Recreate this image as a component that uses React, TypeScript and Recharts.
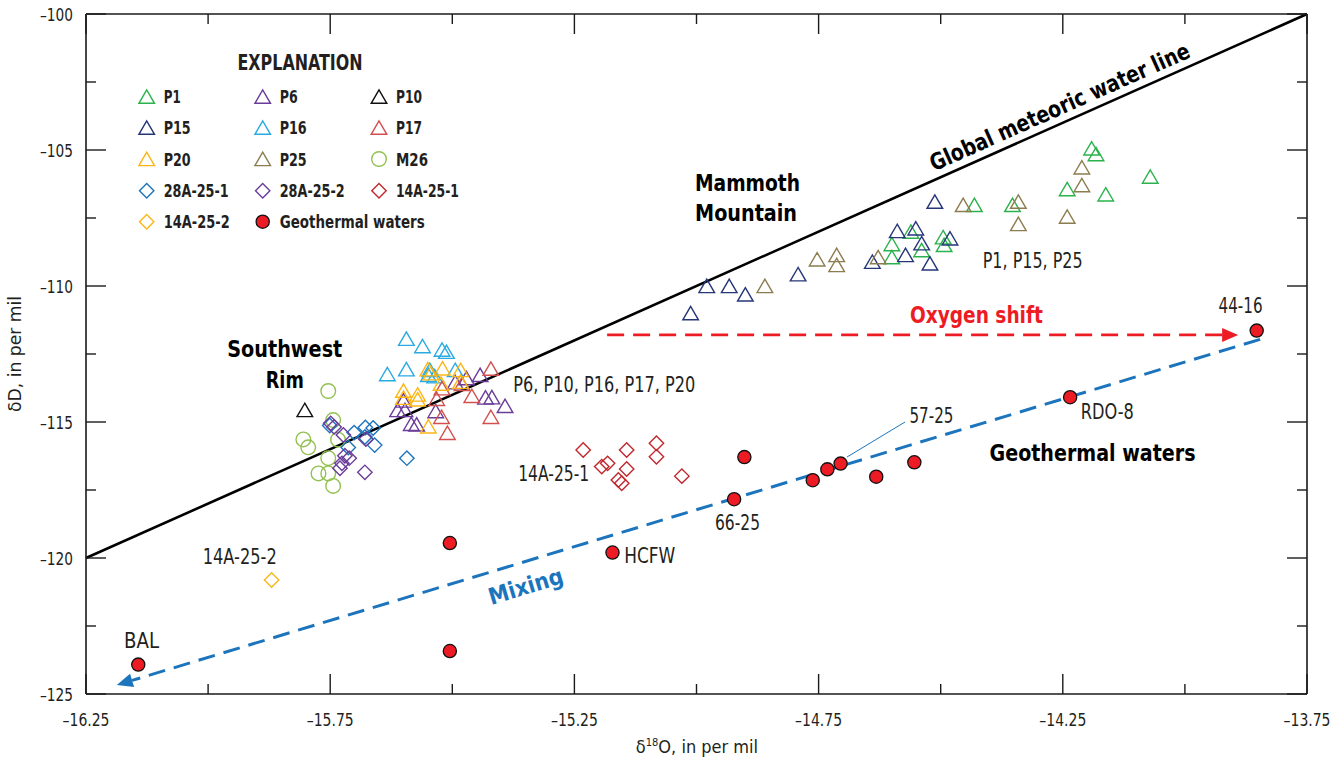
import React from 'react';
import { ScatterChart, Scatter, XAxis, YAxis, ReferenceLine } from 'recharts';

// ---------- data (δ18O, δD) ----------
const P1 = [[-14.600,-108.46],[-14.600,-108.94],[-14.561,-108.00],[-14.539,-108.68],[-14.495,-108.21],[-14.493,-108.49],[-14.431,-107.02],[-14.353,-107.02],[-14.241,-106.44],[-14.191,-104.94],[-14.182,-105.15],[-14.162,-106.63],[-14.071,-105.98]];
const P6 = [[-15.612,-114.56],[-15.597,-114.56],[-15.600,-114.21],[-15.584,-115.07],[-15.573,-115.09],[-15.534,-114.60],[-15.494,-113.54],[-15.471,-113.39],[-15.443,-113.27],[-15.432,-114.10],[-15.419,-114.09],[-15.392,-114.41]];
const P10 = [[-15.802,-114.56]];
const P15 = [[-15.012,-111.00],[-14.979,-110.00],[-14.933,-110.00],[-14.900,-110.31],[-14.792,-109.57],[-14.640,-109.11],[-14.589,-107.98],[-14.572,-108.86],[-14.551,-107.88],[-14.539,-108.43],[-14.522,-109.17],[-14.512,-106.90],[-14.481,-108.25]];
const P16 = [[-15.594,-111.94],[-15.561,-112.21],[-15.521,-112.34],[-15.512,-112.42],[-15.633,-113.24],[-15.594,-113.06],[-15.546,-113.09],[-15.549,-113.27],[-15.536,-113.32],[-15.494,-113.09]];
const P17 = [[-15.421,-113.04],[-15.521,-113.76],[-15.532,-114.15],[-15.460,-114.04],[-15.421,-114.81],[-15.522,-114.81],[-15.510,-115.40],[-15.480,-113.60]];
const P20 = [[-15.550,-113.06],[-15.544,-113.21],[-15.520,-113.03],[-15.483,-113.09],[-15.483,-113.52],[-15.523,-113.59],[-15.600,-113.85],[-15.600,-114.11],[-15.571,-113.99],[-15.571,-114.17],[-15.549,-115.16]];
const P25 = [[-14.860,-110.00],[-14.753,-109.02],[-14.713,-108.86],[-14.713,-109.23],[-14.628,-108.94],[-14.454,-107.02],[-14.341,-106.90],[-14.341,-107.72],[-14.241,-107.45],[-14.211,-105.64],[-14.211,-106.29]];
const M26 = [[-15.754,-113.86],[-15.744,-114.93],[-15.805,-115.64],[-15.795,-115.93],[-15.734,-115.65],[-15.754,-116.33],[-15.774,-116.89],[-15.754,-116.89],[-15.744,-117.35]];
const W28A_25_1 = [[-15.751,-115.13],[-15.701,-115.39],[-15.678,-115.20],[-15.662,-115.22],[-15.679,-115.55],[-15.713,-115.94],[-15.659,-115.85],[-15.593,-116.33]];
const W28A_25_2 = [[-15.749,-115.05],[-15.742,-115.18],[-15.723,-115.48],[-15.677,-115.63],[-15.720,-116.24],[-15.711,-116.33],[-15.726,-116.52],[-15.730,-116.70],[-15.679,-116.85]];
const W14A_25_1 = [[-15.232,-116.03],[-15.194,-116.64],[-15.182,-116.52],[-15.143,-116.03],[-15.143,-116.73],[-15.160,-117.13],[-15.153,-117.25],[-15.082,-115.78],[-15.082,-116.28],[-15.030,-116.99]];
const W14A_25_2 = [[-15.870,-120.81]];
const GEOTHERMAL = [[-16.143,-123.92],[-15.505,-119.45],[-15.505,-123.42],[-15.172,-119.80],[-14.923,-117.84],[-14.902,-116.29],[-14.762,-117.14],[-14.732,-116.74],[-14.705,-116.53],[-14.632,-117.01],[-14.554,-116.48],[-14.235,-114.09],[-13.853,-111.64]];

// lines (endpoints in data units)
const GMWL = [[-16.25,-120],[-13.75,-100]];
const MIXING = [[-13.846,-111.96],[-16.187,-124.67]];
const OXYGEN_SHIFT = [[-15.183,-111.80],[-13.891,-111.80]];
const LEADER_57_25 = [[-14.692,-116.29],[-14.573,-115.0]];

// axes
const X_DOMAIN = [-16.25, -13.75];
const Y_DOMAIN = [-125, -100];
const X_TICKS = [-16.25,-16,-15.75,-15.5,-15.25,-15,-14.75,-14.5,-14.25,-14,-13.75];
const Y_TICKS = [-125,-122.5,-120,-117.5,-115,-112.5,-110,-107.5,-105,-102.5,-100];

// annotations: [δ18O, δD, text, kind]
const ANNOTATIONS = [
  [-14.250,-103.68,'Global meteoric water line','gmwl'],
  [-15.003,-106.51,'Mammoth','bold'],
  [-15.003,-107.61,'Mountain','bold'],
  [-14.414,-109.35,'P1, P15, P25','reg'],
  [-14.563,-111.37,'Oxygen shift','red'],
  [-13.886,-111.00,'44-16','regc'],
  [-14.213,-114.90,'RDO-8','reg'],
  [-14.400,-116.42,'Geothermal waters','bold'],
  [-14.564,-115.03,'57-25','reg'],
  [-14.916,-118.97,'66-25','regc'],
  [-15.148,-120.19,'HCFW','reg'],
  [-15.365,-117.17,'14A-25-1','reg'],
  [-16.011,-120.23,'14A-25-2','reg'],
  [-16.172,-123.30,'BAL','reg'],
  [-15.843,-112.62,'Southwest','boldc'],
  [-15.843,-113.76,'Rim','boldc'],
  [-15.375,-113.89,'P6, P10, P16, P17, P20','reg'],
  [-15.345,-121.32,'Mixing','mix'],
];
const TEXT_WIDTHS: Record<string, number> = {
  'Global meteoric water line': 282, Mammoth: 105, Mountain: 102, 'Oxygen shift': 133,
  'Geothermal waters': 206, Southwest: 115, Rim: 38, Mixing: 77,
  'P1, P15, P25': 100, '44-16': 44, 'RDO-8': 53, '57-25': 44, '66-25': 45, HCFW: 51,
  '14A-25-1': 71, '14A-25-2': 74, BAL: 35, 'P6, P10, P16, P17, P20': 182,
};
const LEGEND_WIDTHS: Record<string, number> = {
  P1: 17, P6: 18, P10: 26, P15: 27, P16: 27, P17: 26, P20: 27, P25: 27, M26: 32,
  '28A-25-1': 65, '28A-25-2': 65, '14A-25-1': 63, '14A-25-2': 66, 'Geothermal waters': 145,
};

// ---------- styling ----------
const W = 1336, H = 761;
const MARGIN = { top: 13, right: 28, bottom: 37, left: 26 };
const FONT = "'DejaVu Sans Condensed', 'Liberation Sans Narrow', 'Arial Narrow', sans-serif";
const AX = '#1a1a1a';
const TXT = '#231f20';
const GEO_RED = '#ed1c24';
const MIX_BLUE = '#1c75bc';

const toPts = (a: number[][]) => a.map(([o, d]) => ({ o, d }));

const Tri = ({ cx, cy, c }: any) => (
  <polygon points={`${cx},${cy - 6.8} ${cx - 7.8},${cy + 6.6} ${cx + 7.8},${cy + 6.6}`} fill="none" stroke={c} strokeWidth={1.4} />
);
const Dia = ({ cx, cy, c }: any) => (
  <polygon points={`${cx},${cy - 7.2} ${cx + 7.2},${cy} ${cx},${cy + 7.2} ${cx - 7.2},${cy}`} fill="none" stroke={c} strokeWidth={1.4} />
);
const Circ = ({ cx, cy, c }: any) => <circle cx={cx} cy={cy} r={7.3} fill="none" stroke={c} strokeWidth={1.4} />;
const Geo = ({ cx, cy }: any) => <circle cx={cx} cy={cy} r={6.6} fill={GEO_RED} stroke="#111" strokeWidth={1.3} />;

const MARKERS: Record<string, any> = { tri: Tri, dia: Dia, circ: Circ, geo: Geo };

const SERIES = [
  { name: 'P1', data: P1, m: 'tri', c: '#2bb24c' },
  { name: 'P6', data: P6, m: 'tri', c: '#6a3d9a' },
  { name: 'P10', data: P10, m: 'tri', c: '#111111' },
  { name: 'P15', data: P15, m: 'tri', c: '#263679' },
  { name: 'P16', data: P16, m: 'tri', c: '#29abe2' },
  { name: 'P17', data: P17, m: 'tri', c: '#d2504f' },
  { name: 'P20', data: P20, m: 'tri', c: '#fbb616' },
  { name: 'P25', data: P25, m: 'tri', c: '#8c7d4f' },
  { name: 'M26', data: M26, m: 'circ', c: '#92c14f' },
  { name: '28A-25-1', data: W28A_25_1, m: 'dia', c: '#1c75bc' },
  { name: '28A-25-2', data: W28A_25_2, m: 'dia', c: '#6a3d9a' },
  { name: '14A-25-1', data: W14A_25_1, m: 'dia', c: '#c1272d' },
  { name: '14A-25-2', data: W14A_25_2, m: 'dia', c: '#fbb616' },
  { name: 'Geothermal waters', data: GEOTHERMAL, m: 'geo', c: GEO_RED },
];

const isMajorX = (v: number) => Math.abs(((v + 16.25) / 0.5) - Math.round((v + 16.25) / 0.5)) < 1e-6;
const isMajorY = (v: number) => Math.abs(v / 5 - Math.round(v / 5)) < 1e-6;
const dash = '\u2013';

const BottomTick = (p: any) => {
  const v = p.payload.value, major = isMajorX(v);
  return (
    <g>
      <line x1={p.x} x2={p.x} y1={p.y} y2={p.y - (major ? 20 : 10)} stroke={AX} strokeWidth={1.4} />
      {major && <text x={p.x} y={p.y + 32} textAnchor="middle" fontFamily={FONT} fontSize={17} fill={TXT} textLength={47} lengthAdjust="spacingAndGlyphs">{dash + Math.abs(v).toFixed(2)}</text>}
    </g>
  );
};
const TopTick = (p: any) => {
  const v = p.payload.value, major = isMajorX(v);
  return <line x1={p.x} x2={p.x} y1={p.y} y2={p.y + (major ? 20 : 10)} stroke={AX} strokeWidth={1.4} />;
};
const LeftTick = (p: any) => {
  const v = p.payload.value, major = isMajorY(v);
  return (
    <g>
      <line x1={p.x} x2={p.x + (major ? 20 : 10)} y1={p.y} y2={p.y} stroke={AX} strokeWidth={1.4} />
      {major && <text x={p.x - 13} y={p.y + 6.5} textAnchor="end" fontFamily={FONT} fontSize={17} fill={TXT} textLength={33} lengthAdjust="spacingAndGlyphs">{dash + Math.abs(v)}</text>}
    </g>
  );
};
const RightTick = (p: any) => {
  const v = p.payload.value, major = isMajorY(v);
  return <line x1={p.x} x2={p.x - (major ? 20 : 10)} y1={p.y} y2={p.y} stroke={AX} strokeWidth={1.4} />;
};

const arrowLine = (color: string, width: number, dashArr: string | undefined, arrow: boolean) => (p: any) => {
  const { x1, y1, x2, y2 } = p;
  if ([x1, y1, x2, y2].some((v) => typeof v !== 'number' || isNaN(v))) return <g />;
  const len = Math.hypot(x2 - x1, y2 - y1);
  const ux = (x2 - x1) / len, uy = (y2 - y1) / len;
  const aL = 16, aW = 7;
  const ex = arrow ? x2 - ux * aL : x2, ey = arrow ? y2 - uy * aL : y2;
  return (
    <g>
      <line x1={x1} y1={y1} x2={ex} y2={ey} stroke={color} strokeWidth={width} strokeDasharray={dashArr} />
      {arrow && (
        <polygon points={`${x2},${y2} ${ex - uy * aW},${ey + ux * aW} ${ex + uy * aW},${ey - ux * aW}`} fill={color} />
      )}
    </g>
  );
};

const seg = (a: number[][]) => [{ x: a[0][0], y: a[0][1] }, { x: a[1][0], y: a[1][1] }] as any;

const annStyle = (kind: string, text: string) => {
  const base: any = { fontFamily: FONT, fill: TXT, fontSize: 20.5, textAnchor: 'start', textLength: TEXT_WIDTHS[text], lengthAdjust: 'spacingAndGlyphs' };
  if (kind === 'regc') base.textAnchor = 'middle';
  if (kind === 'bold' || kind === 'boldc' || kind === 'red' || kind === 'gmwl' || kind === 'mix') {
    base.fontWeight = 'bold';
    base.fontSize = 23;
    base.fill = '#000';
  }
  if (kind === 'boldc' || kind === 'gmwl' || kind === 'mix') base.textAnchor = 'middle';
  if (kind === 'red') base.fill = GEO_RED;
  if (kind === 'mix') base.fill = MIX_BLUE;
  return base;
};

const AnnotationShape = (p: any) => {
  const { cx, cy, payload } = p;
  const { text, kind } = payload;
  const st = annStyle(kind, text);
  let transform: string | undefined;
  if (kind === 'gmwl') transform = `rotate(-24 ${cx} ${cy})`;
  if (kind === 'mix') transform = `rotate(-16.8 ${cx} ${cy})`;
  return (
    <text x={cx} y={cy} transform={transform} {...st}>
      {text}
    </text>
  );
};

const Legend = () => {
  const rows = [
    ['P1', 'P6', 'P10'],
    ['P15', 'P16', 'P17'],
    ['P20', 'P25', 'M26'],
    ['28A-25-1', '28A-25-2', '14A-25-1'],
    ['14A-25-2', 'Geothermal waters'],
  ];
  const rowY = [96.7, 127.7, 159, 190.7, 221.7];
  const colX = [146.7, 262.7, 379];
  const items: any[] = [];
  rows.forEach((r, i) =>
    r.forEach((name, j) => {
      const s = SERIES.find((q) => q.name === name)!;
      const Mk = MARKERS[s.m];
      items.push(
        <g key={name}>
          <Mk cx={colX[j]} cy={rowY[i]} c={s.c} />
          <text x={colX[j] + 17} y={rowY[i] + 6.6} fontFamily={FONT} fontWeight="bold" fontSize={18.5} fill={TXT}
            textLength={LEGEND_WIDTHS[name]} lengthAdjust="spacingAndGlyphs">
            {name}
          </text>
        </g>
      );
    })
  );
  return (
    <svg width={W} height={H} style={{ position: 'absolute', left: 0, top: 0, pointerEvents: 'none' }}>
      <text x={300} y={69.5} textAnchor="middle" fontFamily={FONT} fontWeight="bold" fontSize={21} fill={TXT} textLength={125} lengthAdjust="spacingAndGlyphs">
        EXPLANATION
      </text>
      {items}
      <text transform="translate(21 354) rotate(-90)" textAnchor="middle" fontFamily={FONT} fontSize={17} fill={TXT} textLength={116} lengthAdjust="spacingAndGlyphs">
        δD, in per mil
      </text>
      <text x={697} y={753} textAnchor="middle" fontFamily={FONT} fontSize={18} fill={TXT}>
        <tspan>δ</tspan>
        <tspan fontSize={11} dy={-7}>18</tspan>
        <tspan dy={7}>O, in per mil</tspan>
      </text>
    </svg>
  );
};

export default function App() {
  const annData = ANNOTATIONS.map(([o, d, text, kind]) => ({ o, d, text, kind }));
  return (
    <div style={{ position: 'absolute', left: 0, top: 0, width: W, height: H, background: '#fff' }}>
      <ScatterChart width={W} height={H} margin={MARGIN}>
        <XAxis xAxisId={0} type="number" dataKey="o" domain={X_DOMAIN} allowDataOverflow ticks={X_TICKS} interval={0}
          height={30} tickSize={0} tickMargin={0} tickLine={false} tick={<BottomTick />} axisLine={{ stroke: AX, strokeWidth: 1.6 }} />
        <XAxis xAxisId="top" orientation="top" type="number" dataKey="o" domain={X_DOMAIN} allowDataOverflow ticks={X_TICKS} interval={0}
          height={1} tickSize={0} tickMargin={0} tickLine={false} tick={<TopTick />} axisLine={{ stroke: AX, strokeWidth: 1.6 }} />
        <YAxis yAxisId={0} type="number" dataKey="d" domain={Y_DOMAIN} allowDataOverflow ticks={Y_TICKS} interval={0}
          width={60} tickSize={0} tickMargin={0} tickLine={false} tick={<LeftTick />} axisLine={{ stroke: AX, strokeWidth: 1.6 }} />
        <YAxis yAxisId="right" orientation="right" type="number" dataKey="d" domain={Y_DOMAIN} allowDataOverflow ticks={Y_TICKS} interval={0}
          width={1} tickSize={0} tickMargin={0} tickLine={false} tick={<RightTick />} axisLine={{ stroke: AX, strokeWidth: 1.6 }} />

        {SERIES.map((s) => {
          const Mk = MARKERS[s.m];
          return (
            <Scatter key={s.name} name={s.name} data={toPts(s.data)} isAnimationActive={false}
              shape={(p: any) => <Mk cx={p.cx} cy={p.cy} c={s.c} />} />
          );
        })}

        <ReferenceLine segment={seg(GMWL)} ifOverflow="visible" stroke="#000" strokeWidth={2.6} />
        <ReferenceLine segment={seg(OXYGEN_SHIFT)} ifOverflow="visible" shape={arrowLine(GEO_RED, 2.8, '17 9', true)} />
        <ReferenceLine segment={seg(MIXING)} ifOverflow="visible" shape={arrowLine(MIX_BLUE, 3, '17 9', true)} />
        <ReferenceLine segment={seg(LEADER_57_25)} ifOverflow="visible" stroke={MIX_BLUE} strokeWidth={1} />

        <Scatter name="annotations" data={annData} isAnimationActive={false} shape={AnnotationShape} />
      </ScatterChart>
      <Legend />
    </div>
  );
}
